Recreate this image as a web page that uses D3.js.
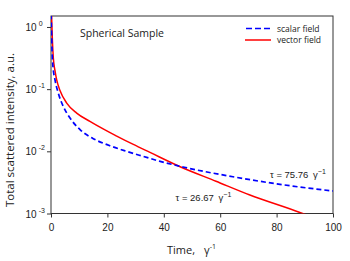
<!DOCTYPE html>
<html>
<head>
<meta charset="utf-8">
<script src="https://cdn.jsdelivr.net/npm/d3@7"></script>
<style>
  body { margin: 0; background: #fff; }
  svg text { fill: #222; }
</style>
</head>
<body>
<svg id="chart" width="350" height="261"></svg>
<script>
// Data
var scalarTime  = [0.05, 0.15, 0.35, 0.6, 1.42, 2.59, 4.36, 6.74, 10.3, 15.0, 20.9, 26.8, 32.7, 38.7, 46.8, 64.5, 82.2, 100];
var scalarValue = [1.6, 1.0, 0.45, 0.261, 0.141, 0.0863, 0.0526, 0.0343, 0.0223, 0.016, 0.0123, 0.0100, 0.0083, 0.0069, 0.0056, 0.0039, 0.0029, 0.0023];
var vectorTime  = [0.15, 0.3, 0.5, 0.82, 1.4, 2.02, 3.19, 5.57, 9.11, 13.8, 18.5, 23.3, 29.2, 35.1, 45.6, 58.5, 70.3, 88, 92];
var vectorValue = [2.0, 1.1, 0.6, 0.32, 0.2, 0.141, 0.095, 0.0597, 0.0412, 0.0303, 0.0229, 0.0176, 0.0129, 0.0096, 0.0057, 0.0033, 0.0020, 0.00105, 0.0009];
var xTicks = [0, 20, 40, 60, 80, 100];
var yTicks = [1, 0.1, 0.01, 0.001];
var yExp = ["0", "-1", "-2", "-3"];

var svg = d3.select("#chart");
// plot box (note: "top" is reserved on window)
var pLeft = 51, pRight = 333, pTop = 16, pBottom = 213.5;

var x = d3.scaleLinear().domain([0, 100]).range([pLeft, pRight]);
var y = d3.scaleLog().domain([0.001, Math.pow(10, 11/62.3)]).range([pBottom, pTop]);

// clip
svg.append("defs").append("clipPath").attr("id", "plotclip")
   .append("rect").attr("x", pLeft).attr("y", pTop).attr("width", pRight-pLeft).attr("height", pBottom-pTop);

// frame
svg.append("rect")
   .attr("x", pLeft).attr("y", pTop)
   .attr("width", pRight-pLeft).attr("height", pBottom-pTop)
   .style("fill", "none").style("stroke", "#333").style("stroke-width", 1);

// x axis
var xAxis = svg.append("g")
   .attr("transform", "translate(0," + pBottom + ")")
   .call(d3.axisBottom(x).tickValues(xTicks).tickSize(4).tickPadding(6).tickFormat(d3.format("d")));
xAxis.select(".domain").remove();
xAxis.selectAll("line").style("stroke", "#333");
xAxis.selectAll("text").style("font-family", "Liberation Sans, Arial, sans-serif").style("font-size", "10px").style("fill", "#222");

// y axis
var yAxis = svg.append("g")
   .attr("transform", "translate(" + pLeft + ",0)")
   .call(d3.axisLeft(y).tickValues(yTicks).tickSize(4).tickFormat(""));
yAxis.select(".domain").remove();
yAxis.selectAll("line").style("stroke", "#333");
yTicks.forEach(function(d, i) {
  var t = svg.append("text")
     .attr("x", 25.5).attr("y", y(d) + 4)
     .style("font-family", "Liberation Sans, Arial, sans-serif")
     .style("font-size", "10px");
  t.append("tspan").text("10");
  t.append("tspan").attr("dx", 2).attr("dy", -5).style("font-size", "7px").text(yExp[i]);
});

// curves
var line = d3.line()
   .x(function(d) { return x(d[0]); })
   .y(function(d) { return y(d[1]); })
   .curve(d3.curveMonotoneX);

var plot = svg.append("g").attr("clip-path", "url(#plotclip)");
plot.append("path")
   .datum(vectorTime.map(function(t, i) { return [t, vectorValue[i]]; }))
   .attr("d", line)
   .style("fill", "none").style("stroke", "#ff0000").style("stroke-width", 1.5);
plot.append("path")
   .datum(scalarTime.map(function(t, i) { return [t, scalarValue[i]]; }))
   .attr("d", line)
   .style("fill", "none").style("stroke", "#0000ff").style("stroke-width", 1.7)
   .style("stroke-dasharray", "5,3");

// legend
svg.append("line").attr("x1", 246).attr("x2", 270).attr("y1", 28.5).attr("y2", 28.5)
   .style("stroke", "#0000ff").style("stroke-width", 1.5).style("stroke-dasharray", "6,3");
svg.append("line").attr("x1", 245).attr("x2", 271).attr("y1", 40).attr("y2", 40)
   .style("stroke", "#ff0000").style("stroke-width", 1.5);
svg.append("text").attr("x", 277).attr("y", 31.5).text("scalar field")
   .style("font-family", "Open Sans, sans-serif").style("font-size", "8.5px");
svg.append("text").attr("x", 277).attr("y", 43).text("vector field")
   .style("font-family", "Open Sans, sans-serif").style("font-size", "8.5px");

// title in plot
svg.append("text").attr("x", 80).attr("y", 37).text("Spherical Sample")
   .style("font-family", "Open Sans, sans-serif").style("font-size", "10.5px");

// annotations
function tauLabel(xp, yp, val) {
  var t = svg.append("text").attr("x", xp).attr("y", yp)
     .style("font-family", "Liberation Sans, Arial, sans-serif").style("font-size", "9.5px");
  t.append("tspan").text("\u03c4 = " + val + "\u2002\u03b3");
  t.append("tspan").attr("dy", -4).style("font-size", "7px").text("\u22121");
}
tauLabel(270, 178, "75.76");
tauLabel(175.5, 201, "26.67");

// axis titles
var xt = svg.append("text").attr("x", 167).attr("y", 254)
   .style("font-family", "Open Sans, sans-serif").style("font-size", "11px");
xt.append("tspan").text("Time,");
xt.append("tspan").attr("x", 204).text("\u03b3");
xt.append("tspan").attr("dy", -5).style("font-size", "7px").text("-1");

svg.append("text")
   .attr("transform", "translate(14,130) rotate(-90)")
   .attr("text-anchor", "middle")
   .style("font-family", "Open Sans, sans-serif").style("font-size", "11.5px")
   .text("Total scattered intensity, a.u.");
</script>
</body>
</html>
